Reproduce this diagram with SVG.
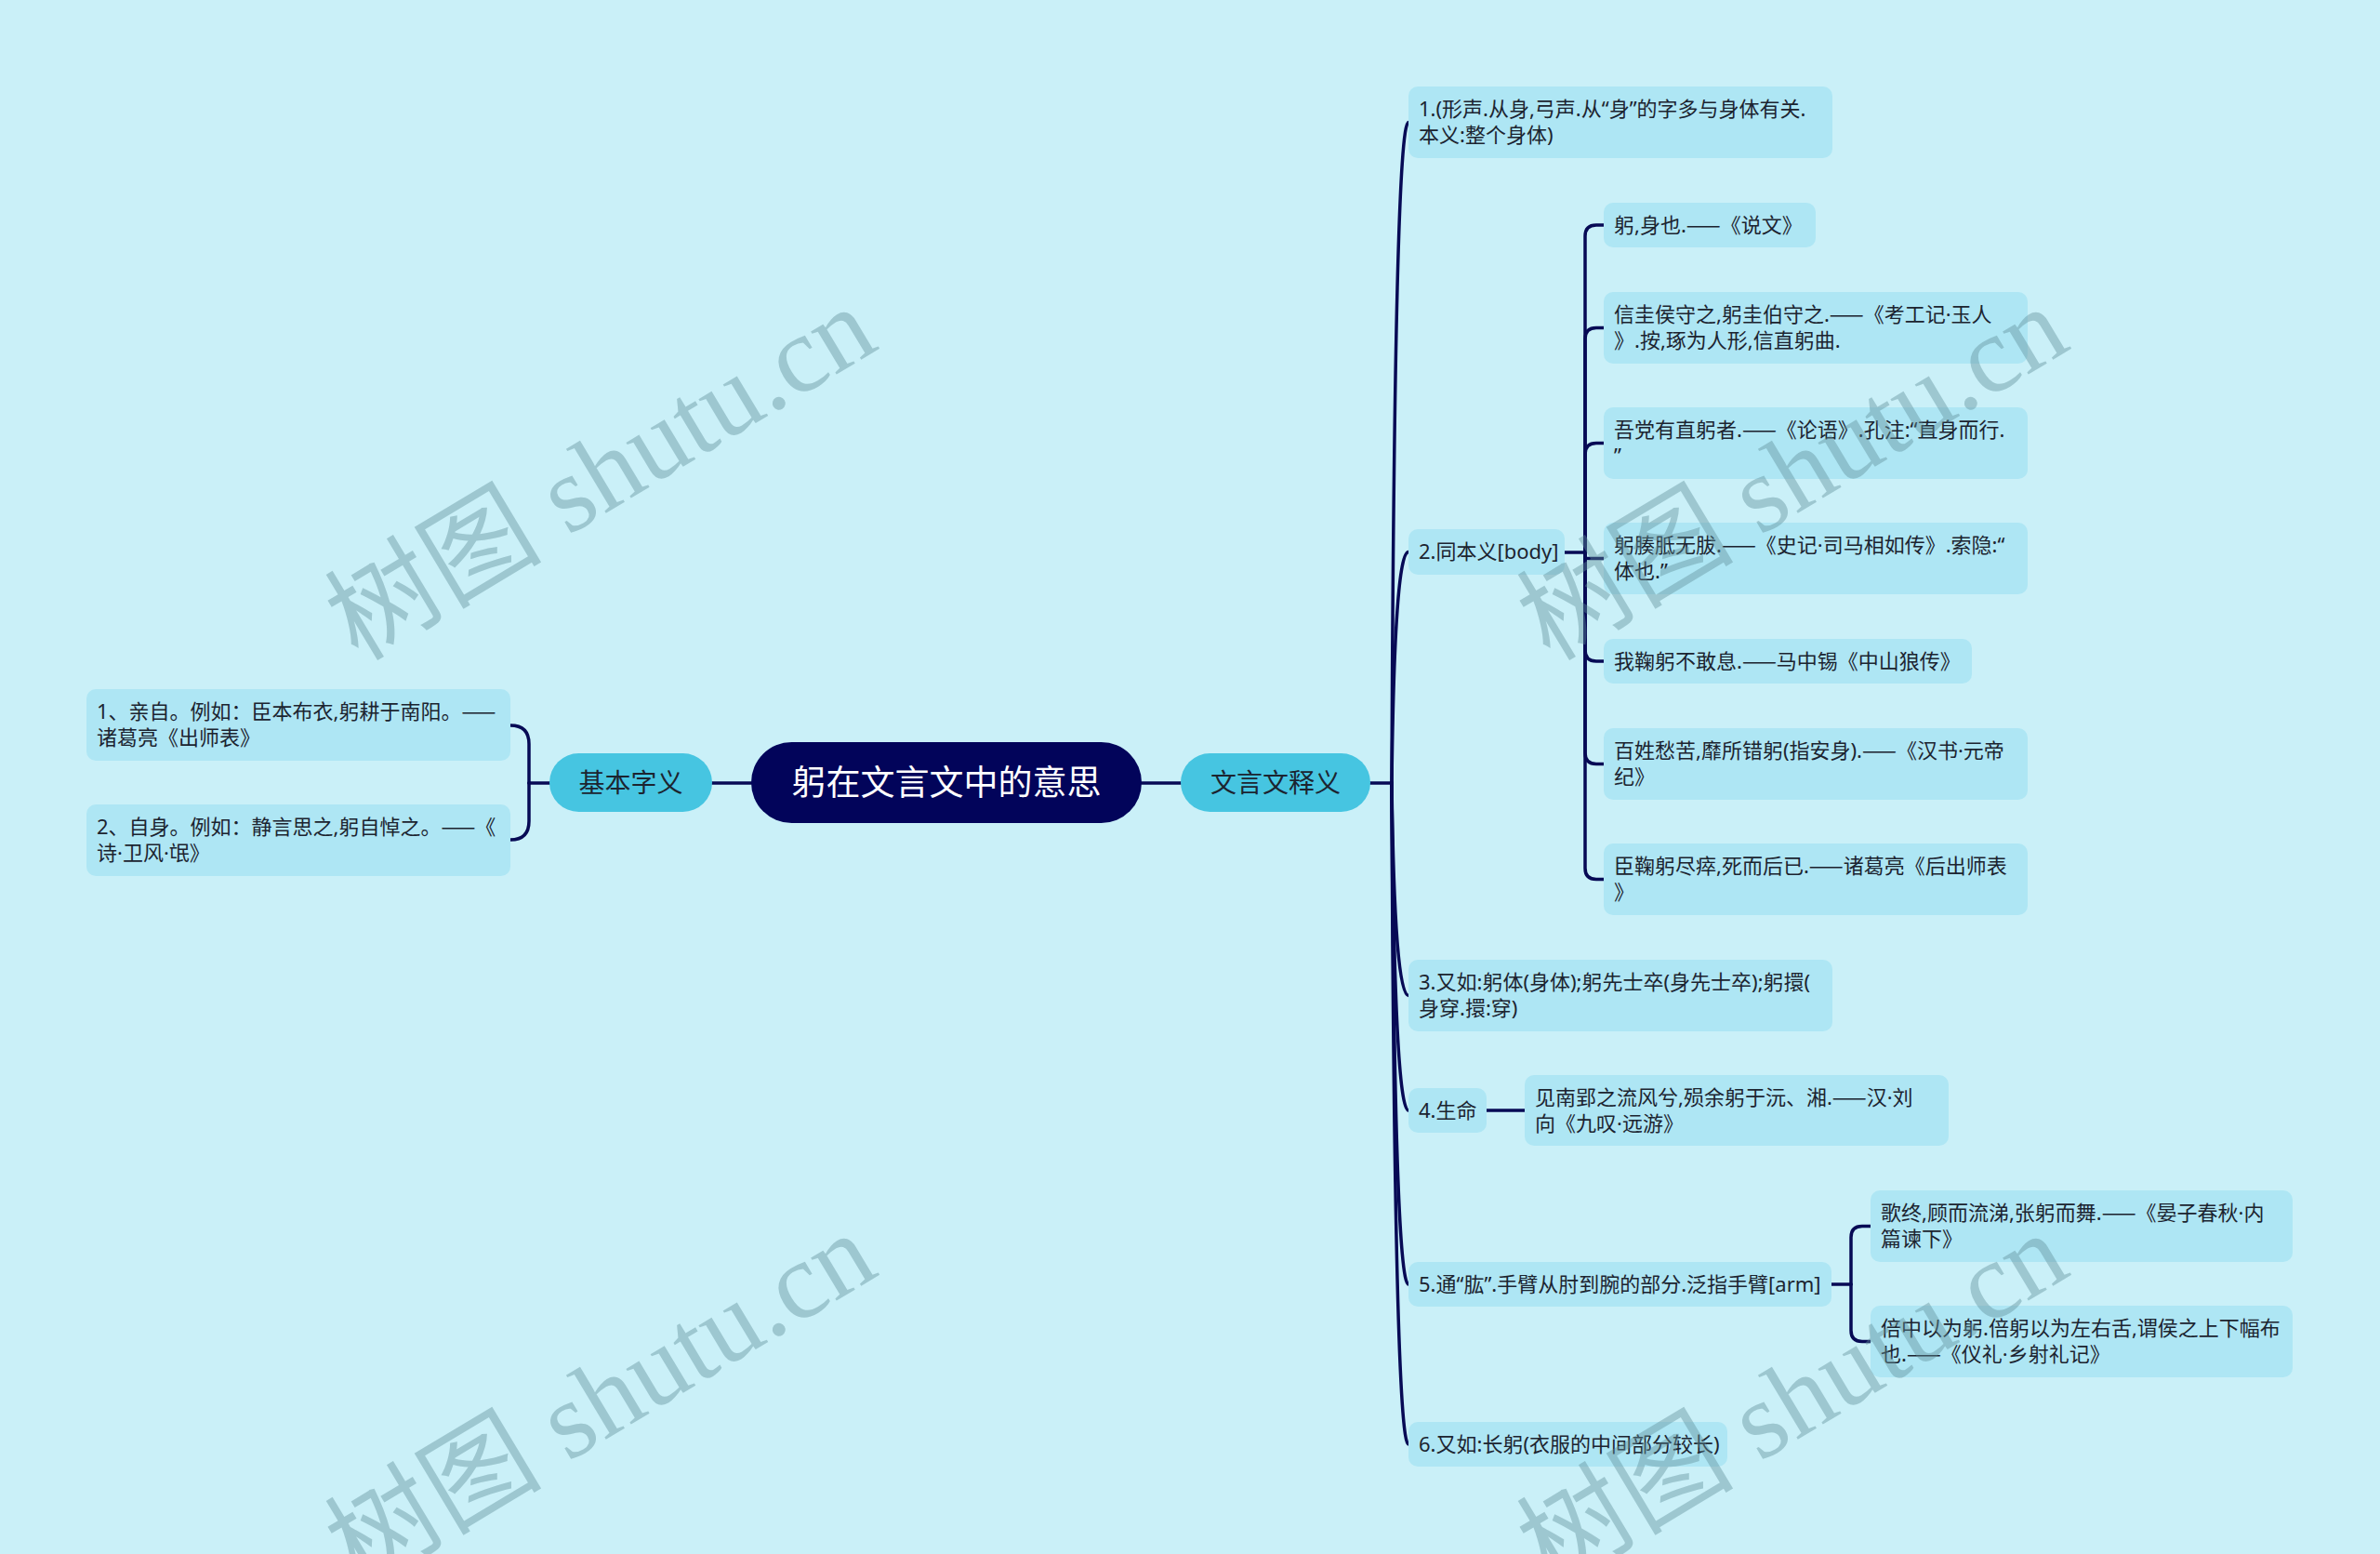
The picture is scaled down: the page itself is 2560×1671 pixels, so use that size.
<svg xmlns="http://www.w3.org/2000/svg" width="2560" height="1671" viewBox="0 0 2560 1671">
<style>
.bg{fill:#caf0f8}
.leaf{fill:#aee6f4}
.l1{fill:#46c5e1}
.root{fill:#02045a}
.t{font-family:"Noto Sans","Noto Sans CJK SC",sans-serif;font-size:22px;fill:#1c2430}
.d{font-family:"Noto Sans CJK SC",sans-serif}
.t1{font-family:"Noto Sans CJK SC","Noto Sans",sans-serif;font-size:28px;fill:#1c2430;text-anchor:middle}
.t0{font-family:"Noto Sans CJK SC","Noto Sans",sans-serif;font-size:37px;fill:#ffffff;text-anchor:middle}
.c path{fill:none;stroke:#070a55;stroke-width:3.5;stroke-linecap:round}
.wm{font-family:"Liberation Serif","Noto Sans CJK SC",serif;font-size:117px;fill:#5f8f99;fill-opacity:0.42}
</style>
<rect class="bg" x="0" y="0" width="2560" height="1671"/>

<g id="connectors" class="c">
<path d="M766,842 H808"/>
<path d="M1228,842 H1270"/>
<path d="M591,842 H569"/>
<path d="M569,842 V800 Q569,780 549,780"/>
<path d="M569,842 V883 Q569,903 549,903"/>
<path d="M1474,842 H1497"/>
<path d="M1497,842 Q1500,131.5 1515,131.5"/>
<path d="M1497,842 Q1500,593.5 1515,593.5"/>
<path d="M1497,842 Q1500,1070.5 1515,1070.5"/>
<path d="M1497,842 Q1500,1194 1515,1194"/>
<path d="M1497,842 Q1500,1381 1515,1381"/>
<path d="M1497,842 Q1500,1553 1515,1553"/>
<path d="M1683,594 H1705"/>
<path d="M1705,594 V254 Q1705,242 1717,242 H1725"/>
<path d="M1705,594 V364.5 Q1705,352.5 1717,352.5 H1725"/>
<path d="M1705,594 V488.5 Q1705,476.5 1717,476.5 H1725"/>
<path d="M1705,594 V600.5 H1725"/>
<path d="M1705,594 V699 Q1705,711 1717,711 H1725"/>
<path d="M1705,594 V809.5 Q1705,821.5 1717,821.5 H1725"/>
<path d="M1705,594 V933.5 Q1705,945.5 1717,945.5 H1725"/>
<path d="M1599,1194 H1640"/>
<path d="M1970,1381 H1991"/>
<path d="M1991,1381 V1330.5 Q1991,1318.5 2003,1318.5 H2012"/>
<path d="M1991,1381 V1430.5 Q1991,1442.5 2003,1442.5 H2012"/>
</g>

<g id="root">
<rect class="root" x="808" y="798" width="420" height="87" rx="43.5"/>
<text class="t0" x="1018" y="855">躬在文言文中的意思</text>
</g>

<g id="basic">
<rect class="l1" x="591" y="810" width="175" height="63" rx="31.5"/>
<text class="t1" x="678.5" y="852">基本字义</text>
</g>
<g id="classical">
<rect class="l1" x="1270" y="810" width="204" height="63" rx="31.5"/>
<text class="t1" x="1372" y="852">文言文释义</text>
</g>

<g id="b1">
<rect class="leaf" x="93" y="741" width="456" height="77" rx="10"/>
<text class="t" x="104" y="773">1、亲自。例如：臣本布衣,躬耕于南阳。<tspan class="d">——</tspan></text>
<text class="t" x="104" y="801">诸葛亮《出师表》</text>
</g>
<g id="b2">
<rect class="leaf" x="93" y="865" width="456" height="77" rx="10"/>
<text class="t" x="104" y="897">2、自身。例如：静言思之,躬自悼之。<tspan class="d">——</tspan>《</text>
<text class="t" x="104" y="925">诗·卫风·氓》</text>
</g>

<g id="c1">
<rect class="leaf" x="1515" y="93" width="456" height="77" rx="10"/>
<text class="t" x="1526" y="125">1.(形声.从身,弓声.从“身”的字多与身体有关.</text>
<text class="t" x="1526" y="153">本义:整个身体)</text>
</g>
<g id="c2">
<rect class="leaf" x="1515" y="569" width="168" height="49" rx="10"/>
<text class="t" x="1526" y="601">2.同本义[body]</text>
</g>
<g id="s1">
<rect class="leaf" x="1725" y="218" width="228" height="48" rx="10"/>
<text class="t" x="1736" y="249.5">躬,身也.<tspan class="d">——</tspan>《说文》</text>
</g>
<g id="s2">
<rect class="leaf" x="1725" y="314" width="456" height="77" rx="10"/>
<text class="t" x="1736" y="346">信圭侯守之,躬圭伯守之.<tspan class="d">——</tspan>《考工记·玉人</text>
<text class="t" x="1736" y="374">》.按,琢为人形,信直躬曲.</text>
</g>
<g id="s3">
<rect class="leaf" x="1725" y="438" width="456" height="77" rx="10"/>
<text class="t" x="1736" y="470">吾党有直躬者.<tspan class="d">——</tspan>《论语》.孔注:“直身而行.</text>
<text class="t" x="1736" y="498">”</text>
</g>
<g id="s4">
<rect class="leaf" x="1725" y="562" width="456" height="77" rx="10"/>
<text class="t" x="1736" y="594">躬腠胝无胈.<tspan class="d">——</tspan>《史记·司马相如传》.索隐:“</text>
<text class="t" x="1736" y="622">体也.”</text>
</g>
<g id="s5">
<rect class="leaf" x="1725" y="687" width="396" height="48" rx="10"/>
<text class="t" x="1736" y="718.5">我鞠躬不敢息.<tspan class="d">——</tspan>马中锡《中山狼传》</text>
</g>
<g id="s6">
<rect class="leaf" x="1725" y="783" width="456" height="77" rx="10"/>
<text class="t" x="1736" y="815">百姓愁苦,靡所错躬(指安身).<tspan class="d">——</tspan>《汉书·元帝</text>
<text class="t" x="1736" y="843">纪》</text>
</g>
<g id="s7">
<rect class="leaf" x="1725" y="907" width="456" height="77" rx="10"/>
<text class="t" x="1736" y="939">臣鞠躬尽瘁,死而后已.<tspan class="d">——</tspan>诸葛亮《后出师表</text>
<text class="t" x="1736" y="967">》</text>
</g>
<g id="c3">
<rect class="leaf" x="1515" y="1032" width="456" height="77" rx="10"/>
<text class="t" x="1526" y="1064">3.又如:躬体(身体);躬先士卒(身先士卒);躬擐(</text>
<text class="t" x="1526" y="1092">身穿.擐:穿)</text>
</g>
<g id="c4">
<rect class="leaf" x="1515" y="1170" width="84" height="48" rx="10"/>
<text class="t" x="1526" y="1201.5">4.生命</text>
</g>
<g id="c4a">
<rect class="leaf" x="1640" y="1156" width="456" height="76" rx="10"/>
<text class="t" x="1651" y="1187.5">见南郢之流风兮,殒余躬于沅、湘.<tspan class="d">——</tspan>汉·刘</text>
<text class="t" x="1651" y="1215.5">向《九叹·远游》</text>
</g>
<g id="c5">
<rect class="leaf" x="1515" y="1357" width="455" height="48" rx="10"/>
<text class="t" x="1526" y="1388.5">5.通“肱”.手臂从肘到腕的部分.泛指手臂[arm]</text>
</g>
<g id="c5a">
<rect class="leaf" x="2012" y="1280" width="454" height="77" rx="10"/>
<text class="t" x="2023" y="1312">歌终,顾而流涕,张躬而舞.<tspan class="d">——</tspan>《晏子春秋·内</text>
<text class="t" x="2023" y="1340">篇谏下》</text>
</g>
<g id="c5b">
<rect class="leaf" x="2012" y="1404" width="454" height="77" rx="10"/>
<text class="t" x="2023" y="1436">倍中以为躬.倍躬以为左右舌,谓侯之上下幅布</text>
<text class="t" x="2023" y="1464">也.<tspan class="d">——</tspan>《仪礼·乡射礼记》</text>
</g>
<g id="c6">
<rect class="leaf" x="1515" y="1529" width="343" height="48" rx="10"/>
<text class="t" x="1526" y="1560.5">6.又如:长躬(衣服的中间部分较长)</text>
</g>

<g id="watermarks">
<text class="wm" transform="translate(385,712) rotate(-31)">树图 shutu.cn</text>
<text class="wm" transform="translate(1667,712) rotate(-31)">树图 shutu.cn</text>
<text class="wm" transform="translate(385,1708) rotate(-31)">树图 shutu.cn</text>
<text class="wm" transform="translate(1667,1708) rotate(-31)">树图 shutu.cn</text>
</g>
</svg>
